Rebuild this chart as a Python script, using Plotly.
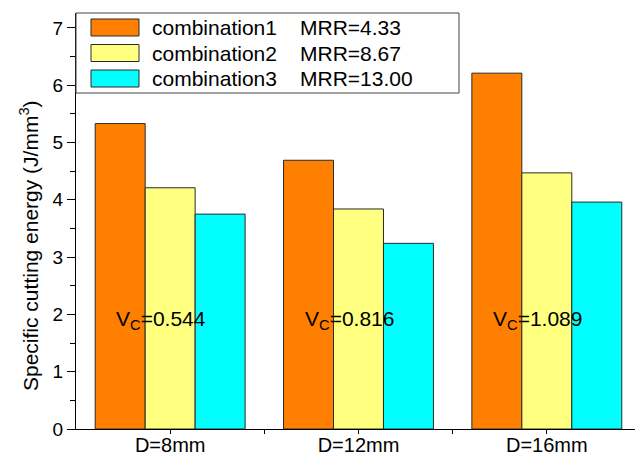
import plotly.graph_objects as go

# Data
categories = ["D=8mm", "D=12mm", "D=16mm"]
series_names = ["combination1", "combination2", "combination3"]
mrr_labels = ["MRR=4.33", "MRR=8.67", "MRR=13.00"]
combination1 = [5.33, 4.69, 6.21]
combination2 = [4.21, 3.84, 4.47]
combination3 = [3.75, 3.24, 3.96]
vc_values = ["0.544", "0.816", "1.089"]

series_values = [combination1, combination2, combination3]
colors = ["#FF8000", "#FFFF80", "#00FFFF"]

# Figure geometry (pixels)
W, H = 635, 457
ML, MT, MB, MR = 76, 13, 28, 0
PW, PH = W - ML - MR, H - MT - MB
FONT = "Arial, Liberation Sans, sans-serif"


def fx(px):
    return (px - ML) / PW


def fy(py):
    return (H - MB - py) / PH


xpos = list(range(len(categories)))

fig = go.Figure()
for name, vals, col in zip(series_names, series_values, colors):
    fig.add_trace(go.Bar(
        x=xpos, y=vals, name=name,
        marker=dict(color=col, line=dict(color="#2a2a2a", width=1)),
        showlegend=False,
    ))

# Cutting speed labels inside each group
for i, vc in enumerate(vc_values):
    fig.add_annotation(
        x=xpos[i] - 0.05, y=1.9, xref="x", yref="y",
        text=f"V<sub>C</sub>={vc}", showarrow=False,
        font=dict(family=FONT, size=21, color="black"),
        xanchor="center", yanchor="middle",
    )

# Legend box drawn with shapes and annotations
fig.add_shape(type="rect", xref="paper", yref="paper",
              x0=fx(76), x1=fx(459), y0=fy(93), y1=fy(13),
              line=dict(color="#444", width=1), fillcolor="white", layer="above")
row_centers = [27.5, 53.0, 78.5]
for name, mrr, col, yc in zip(series_names, mrr_labels, colors, row_centers):
    fig.add_shape(type="rect", xref="paper", yref="paper",
                  x0=fx(91), x1=fx(139), y0=fy(yc + 8.5), y1=fy(yc - 8.5),
                  line=dict(color="#2a2a2a", width=1), fillcolor=col, layer="above")
    fig.add_annotation(x=fx(150), y=fy(yc), xref="paper", yref="paper",
                       text=name, showarrow=False, xanchor="left", yanchor="middle",
                       font=dict(family=FONT, size=21, color="black"))
    fig.add_annotation(x=fx(298), y=fy(yc), xref="paper", yref="paper",
                       text=mrr, showarrow=False, xanchor="left", yanchor="middle",
                       font=dict(family=FONT, size=21, color="black"))

# Y axis title
fig.add_annotation(x=fx(29), y=fy(246), xref="paper", yref="paper",
                   text="Specific cutting energy (J/mm<sup>3</sup>)", textangle=-90,
                   showarrow=False, xanchor="center", yanchor="middle",
                   font=dict(family=FONT, size=21, color="black"))

fig.update_layout(
    width=W, height=H,
    margin=dict(l=ML, r=MR, t=MT, b=MB, pad=0, autoexpand=False),
    paper_bgcolor="white", plot_bgcolor="white",
    barmode="group", bargap=0.204, bargroupgap=0,
    font=dict(family=FONT, color="black"),
)
fig.update_xaxes(
    automargin=False,
    range=[-0.5, 2.5 - 6 / 188.5],
    tickmode="array", tickvals=xpos, ticktext=categories,
    showline=True, linecolor="black", linewidth=1,
    ticks="outside", ticklen=4, tickcolor="black",
    tickfont=dict(family=FONT, size=20),
    ticklabelstandoff=-6,
    minor=dict(tickmode="array", tickvals=[0.5, 1.5], ticks="outside",
               ticklen=4, tickcolor="black"),
    showgrid=False, zeroline=False,
)
fig.update_yaxes(
    automargin=False,
    range=[0, 7.26], dtick=1, tick0=0,
    showline=True, linecolor="black", linewidth=1,
    ticks="outside", ticklen=8, tickcolor="black",
    tickfont=dict(family=FONT, size=19),
    minor=dict(dtick=0.5, ticks="outside", ticklen=5, tickcolor="black"),
    showgrid=False, zeroline=False,
)

fig.write_html("out.html")
